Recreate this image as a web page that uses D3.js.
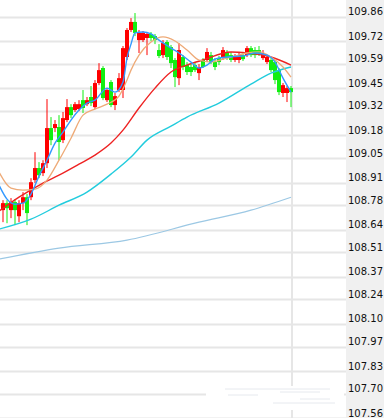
<!DOCTYPE html>
<html>
<head>
<meta charset="utf-8">
<script src="https://cdn.jsdelivr.net/npm/d3@7"></script>
<style>
  html, body { margin: 0; padding: 0; background: #fff; }
  svg { display: block; }
</style>
</head>
<body>
<div id="chart"></div>
<script>
// price axis labels (right side)
const tickLabels = ["109.86", "109.72", "109.59", "109.45", "109.32", "109.18", "109.05", "108.91", "108.78",
    "108.64", "108.51", "108.37", "108.24", "108.10", "107.97", "107.83", "107.70", "107.56"];

// candles, one entry per bar, oldest first
const opens = [108.752, 108.792, 108.752, 108.798, 108.717, 108.792, 108.826, 108.826, 108.924, 108.993,
    108.964, 109.021, 109.222, 109.222, 109.228, 109.153, 109.268, 109.342, 109.325, 109.331,
    109.382, 109.359, 109.400, 109.342, 109.480, 109.566, 109.382, 109.486, 109.354, 109.440,
    109.440, 109.629, 109.784, 109.830, 109.726, 109.726, 109.738, 109.761, 109.749, 109.669,
    109.640, 109.715, 109.686, 109.612, 109.508, 109.629, 109.583, 109.572, 109.583, 109.537,
    109.612, 109.612, 109.640, 109.600, 109.623, 109.629, 109.658, 109.640, 109.612, 109.612,
    109.640, 109.640, 109.680, 109.669, 109.669, 109.623, 109.600, 109.612, 109.600, 109.554,
    109.423, 109.423, 109.451];
const closes = [108.792, 108.763, 108.798, 108.752, 108.792, 108.826, 108.735, 108.912, 108.993, 108.952,
    109.021, 109.222, 109.153, 109.245, 109.142, 109.279, 109.342, 109.296, 109.359, 109.359,
    109.337, 109.382, 109.365, 109.480, 109.554, 109.394, 109.440, 109.354, 109.405, 109.508,
    109.680, 109.784, 109.830, 109.767, 109.767, 109.767, 109.761, 109.738, 109.726, 109.635,
    109.709, 109.629, 109.594, 109.514, 109.669, 109.572, 109.543, 109.543, 109.554, 109.572,
    109.572, 109.658, 109.600, 109.572, 109.600, 109.669, 109.623, 109.612, 109.635, 109.640,
    109.617, 109.680, 109.640, 109.640, 109.646, 109.652, 109.629, 109.554, 109.497, 109.428,
    109.468, 109.451, 109.428];
const highs = [108.809, 108.809, 108.821, 108.815, 108.809, 108.855, 108.844, 108.935, 109.084, 109.027,
    109.038, 109.388, 109.285, 109.268, 109.296, 109.314, 109.388, 109.359, 109.371, 109.382,
    109.440, 109.400, 109.463, 109.497, 109.594, 109.577, 109.451, 109.497, 109.423, 109.537,
    109.692, 109.795, 109.852, 109.881, 109.784, 109.778, 109.772, 109.772, 109.761, 109.703,
    109.726, 109.726, 109.698, 109.623, 109.709, 109.640, 109.600, 109.589, 109.600, 109.589,
    109.623, 109.680, 109.658, 109.623, 109.635, 109.686, 109.669, 109.658, 109.646, 109.658,
    109.658, 109.692, 109.692, 109.686, 109.692, 109.669, 109.640, 109.623, 109.612, 109.566,
    109.480, 109.463, 109.463];
const lows = [108.683, 108.677, 108.706, 108.666, 108.683, 108.752, 108.666, 108.809, 108.907, 108.935,
    108.947, 108.993, 109.124, 109.199, 109.038, 109.136, 109.256, 109.279, 109.314, 109.319,
    109.308, 109.348, 109.348, 109.331, 109.468, 109.382, 109.371, 109.342, 109.325, 109.428,
    109.394, 109.612, 109.772, 109.749, 109.652, 109.715, 109.640, 109.721, 109.703, 109.623,
    109.623, 109.612, 109.566, 109.457, 109.468, 109.554, 109.526, 109.520, 109.543, 109.497,
    109.566, 109.600, 109.589, 109.554, 109.583, 109.612, 109.612, 109.600, 109.600, 109.594,
    109.606, 109.629, 109.629, 109.623, 109.635, 109.612, 109.589, 109.543, 109.474, 109.411,
    109.400, 109.371, 109.342];

// moving average lines, read as [bar index, price]
const ma5 = [[-1, 108.895], [1, 108.815], [3, 108.786], [5, 108.792], [7, 108.844], [9, 108.947],
    [11, 109.038], [13, 109.136], [15, 109.199], [17, 109.268], [19, 109.325], [21, 109.365],
    [23, 109.382], [26, 109.451], [28, 109.428], [30, 109.486], [31, 109.623], [32, 109.703],
    [33, 109.767], [35, 109.772], [37, 109.761], [39, 109.726], [42, 109.680], [44, 109.652],
    [47, 109.600], [49, 109.566], [51, 109.583], [53, 109.617], [56, 109.629], [60, 109.635],
    [63, 109.652], [66, 109.640], [68, 109.600], [70, 109.508], [72, 109.428]];
const ma10 = [[-1, 108.970], [2, 108.878], [5, 108.866], [8, 108.872], [11, 108.924], [14, 109.038],
    [17, 109.164], [20, 109.296], [23, 109.331], [26, 109.359], [29, 109.405], [31, 109.497],
    [32, 109.554], [34, 109.640], [37, 109.715], [40, 109.744], [43, 109.721], [46, 109.669],
    [49, 109.612], [52, 109.600], [55, 109.617], [58, 109.635], [61, 109.652], [64, 109.658],
    [67, 109.629], [70, 109.572], [72, 109.514]];
const ma20 = [[-1, 108.746], [4, 108.826], [10, 108.907], [14, 108.952], [19, 109.015], [23, 109.067],
    [27, 109.136], [30, 109.210], [34, 109.337], [38, 109.451], [42, 109.543], [46, 109.583],
    [50, 109.612], [57, 109.658], [61, 109.652], [67, 109.629], [72, 109.583]];
const ma60 = [[-1, 108.643], [7, 108.700], [14, 108.780], [21, 108.855], [27, 108.958], [32, 109.056],
    [36, 109.153], [42, 109.233], [46, 109.285], [54, 109.365], [62, 109.474], [67, 109.537],
    [72, 109.572]];
const ma120 = [[-1, 108.471], [14, 108.534], [31, 108.580], [49, 108.683], [62, 108.752], [72, 108.826]];

const upColor = "#ff0000";
const downColor = "#11ee11";

const width = 384, height = 418;
const plotRight = 346;      // where the grey axis panel starts
const lastBarX = 292;       // vertical marker at the latest bar

const svg = d3.select("#chart").append("svg")
    .attr("width", width)
    .attr("height", height);

const y = d3.scaleLinear()
    .domain([107.56, 109.86])
    .range([418.2, 16.7]);

const x = d3.scaleLinear()
    .domain([0, opens.length - 1])
    .range([3, 291]);

// axis panel
svg.append("rect")
    .attr("x", plotRight)
    .attr("y", 0)
    .attr("width", width - plotRight)
    .attr("height", height)
    .attr("fill", "#f0f0f0");

// horizontal grid
svg.append("g")
    .selectAll("line")
    .data(tickLabels)
    .join("line")
    .attr("x1", 0)
    .attr("x2", plotRight)
    .attr("y1", d => Math.round(y(+d)) + 0.5)
    .attr("y2", d => Math.round(y(+d)) + 0.5)
    .attr("stroke", "#e6e6e6")
    .attr("stroke-width", 2);

// vertical marker line
svg.append("line")
    .attr("x1", lastBarX)
    .attr("x2", lastBarX)
    .attr("y1", 0)
    .attr("y2", height)
    .attr("stroke", "#e6e6e6")
    .attr("stroke-width", 2);

// faint watermark patch near the bottom
const wm = svg.append("g");
wm.append("rect")
    .attr("x", 206).attr("y", 386)
    .attr("width", 138).attr("height", 24)
    .attr("fill", "#fff");
[[225, 389, 330], [228, 395, 258], [280, 392, 320], [273, 403, 335], [300, 399, 330]].forEach(s =>
    wm.append("line")
        .attr("x1", s[0]).attr("x2", s[2])
        .attr("y1", s[1]).attr("y2", s[1])
        .attr("stroke", "#e6e9ee")
        .attr("stroke-width", 1));

// price labels
svg.append("g")
    .selectAll("text")
    .data(tickLabels)
    .join("text")
    .attr("x", plotRight + 2)
    .attr("y", d => y(+d) - 1.5)
    .attr("font-family", "Tahoma, 'DejaVu Sans', sans-serif")
    .attr("font-size", 10)
    .attr("fill", "#111")
    .text(d => d);

const plot = svg.append("g");

// candles
const candles = opens.map((o, i) => ({i, o, c: closes[i], h: highs[i], l: lows[i]}));

plot.append("g")
    .selectAll("line")
    .data(candles)
    .join("line")
    .attr("x1", d => x(d.i))
    .attr("x2", d => x(d.i))
    .attr("y1", d => y(d.h))
    .attr("y2", d => y(d.l))
    .attr("stroke", d => d.c >= d.o ? upColor : downColor)
    .attr("stroke-width", 1);

plot.append("g")
    .selectAll("rect")
    .data(candles)
    .join("rect")
    .attr("x", d => x(d.i) - 2)
    .attr("width", 4)
    .attr("y", d => y(Math.max(d.o, d.c)))
    .attr("height", d => Math.max(1, Math.abs(y(d.o) - y(d.c))))
    .attr("fill", d => d.c >= d.o ? upColor : downColor);

// moving averages
const line = d3.line()
    .x(d => x(d[0]))
    .y(d => y(d[1]))
    .curve(d3.curveMonotoneX);

const maSeries = [
    {data: ma120, color: "#9cc8e4", w: 1.2},
    {data: ma60, color: "#22ccdd", w: 1.4},
    {data: ma20, color: "#ee2222", w: 1.4},
    {data: ma10, color: "#eeaa77", w: 1.3},
    {data: ma5, color: "#3399ff", w: 1.4}
];

maSeries.forEach(s =>
    plot.append("path")
        .datum(s.data)
        .attr("d", line)
        .attr("fill", "none")
        .attr("stroke", s.color)
        .attr("stroke-width", s.w)
);
</script>
</body>
</html>
